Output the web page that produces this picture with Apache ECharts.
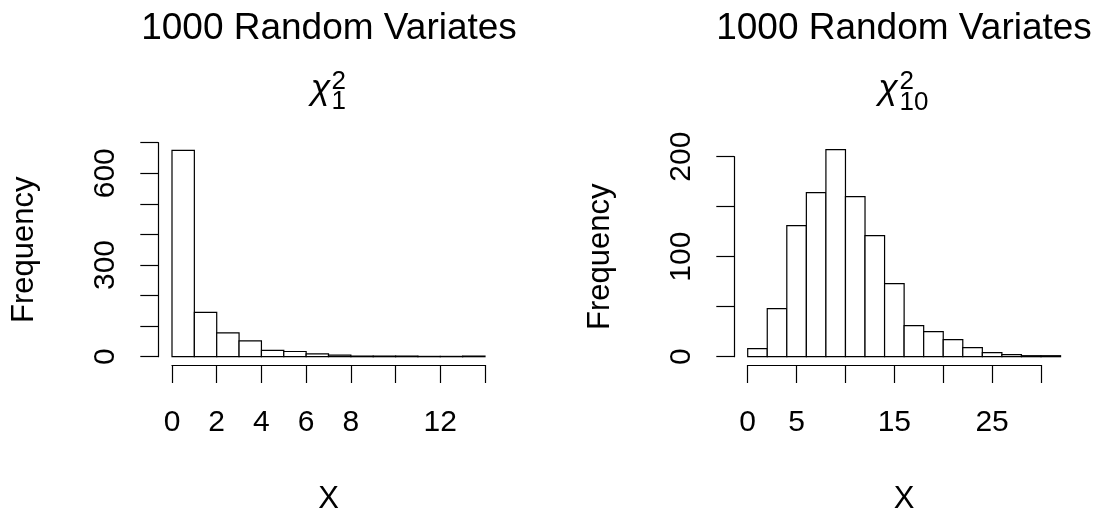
<!DOCTYPE html>
<html>
<head>
<meta charset="utf-8">
<script src="https://cdn.jsdelivr.net/npm/echarts@6/dist/echarts.min.js"></script>
<style>
html,body{margin:0;padding:0;background:#fff;}
#chart{width:1095px;height:512px;}
</style>
</head>
<body>
<div id="chart"></div>
<script>
// ---- data ----
const mainTitle = "1000 Random Variates";
const leftBreaks = [0,1,2,3,4,5,6,7,8,9,10,11,12,13,14];
const leftCounts = [675,145,78,52,21,17,9,5,2,2,2,1,1,2];
const rightBreaks = [0,2,4,6,8,10,12,14,16,18,20,22,24,26,28,30,32];
const rightCounts = [8,48,131,164,207,160,121,73,31,25,17,9,4,2,1,1];
const leftXTickLabels = [0,2,4,6,8,12];
const leftYTickLabels = [0,300,600];
const rightXTickLabels = [0,5,15,25];
const rightYTickLabels = [0,100,200];
const xName = "X";
const yName = "Frequency";

const FONT = "'Liberation Sans', Arial, Helvetica, sans-serif";
const AXFS = 30;
const LW = 1.2;

function binsData(breaks, counts){
  const out = [];
  for (let i = 0; i < counts.length; i++) out.push([breaks[i], breaks[i+1], counts[i]]);
  return out;
}
function renderBin(params, api){
  const x0 = api.value(0), x1 = api.value(1), c = api.value(2);
  const p0 = api.coord([x0, 0]);
  const p1 = api.coord([x1, c]);
  return {
    type: 'rect',
    shape: {x: p0[0], y: p1[1], width: p1[0]-p0[0], height: p0[1]-p1[1]},
    style: {fill: '#ffffff', stroke: '#000000', lineWidth: LW}
  };
}
function labelFmt(list){
  return function(v){ return list.indexOf(v) >= 0 ? String(v) : ''; };
}
function xAxisCfg(gi, min, max, interval, labels){
  return {
    type: 'value', gridIndex: gi, min: min, max: max, interval: interval,
    offset: 8.3,
    axisLine: {show: true, onZero: false, lineStyle: {color: '#000', width: LW}},
    axisTick: {show: true, length: 18, lineStyle: {color: '#000', width: LW}},
    splitLine: {show: false},
    axisLabel: {show: true, margin: 43, color: '#000', fontSize: AXFS, fontFamily: FONT,
      formatter: labelFmt(labels), showMinLabel: true, showMaxLabel: true, hideOverlap: false}
  };
}
function yAxisCfg(gi, min, max, interval, labels, off){
  return {
    type: 'value', gridIndex: gi, min: min, max: max, interval: interval,
    offset: off,
    name: yName, nameLocation: 'middle', nameRotate: 90, nameGap: 118,
    nameTextStyle: {color: '#000', fontSize: 31, fontFamily: FONT},
    axisLine: {show: true, onZero: false, lineStyle: {color: '#000', width: LW}},
    axisTick: {show: true, length: 18, lineStyle: {color: '#000', width: LW}},
    splitLine: {show: false},
    axisLabel: {show: true, rotate: 90, margin: 38, color: '#000', fontSize: AXFS, fontFamily: FONT,
      formatter: labelFmt(labels), showMinLabel: true, showMaxLabel: true, hideOverlap: false}
  };
}
function txt(x, y, s, size, align, extra){
  const st = {text: s, x: x, y: y, fill: '#000',
    font: (extra && extra.italic ? 'italic ' : '') + size + 'px ' + FONT,
    fontSize: size, fontFamily: FONT,
    textAlign: align, align: align, textVerticalAlign: 'middle', verticalAlign: 'middle'};
  if (extra && extra.italic) st.fontStyle = 'italic';
  return {type: 'text', silent: true, style: st};
}

const chart = echarts.init(document.getElementById('chart'), null, {renderer: 'canvas'});
chart.setOption({
  backgroundColor: '#ffffff',
  animation: false,
  grid: [
    {left: 172, top: 142.7, width: 313, height: 214, containLabel: false},
    {left: 747.7, top: 156.7, width: 293.3, height: 200, containLabel: false}
  ],
  xAxis: [
    xAxisCfg(0, 0, 14, 2, leftXTickLabels),
    xAxisCfg(1, 0, 30, 5, rightXTickLabels)
  ],
  yAxis: [
    yAxisCfg(0, 0, 700, 100, leftYTickLabels, 13.7),
    yAxisCfg(1, 0, 200, 50, rightYTickLabels, 13.4)
  ],
  series: [
    {type: 'custom', xAxisIndex: 0, yAxisIndex: 0, clip: false, renderItem: renderBin,
     encode: {x: [0, 1], y: 2}, data: binsData(leftBreaks, leftCounts)},
    {type: 'custom', xAxisIndex: 1, yAxisIndex: 1, clip: false, renderItem: renderBin,
     encode: {x: [0, 1], y: 2}, data: binsData(rightBreaks, rightCounts)}
  ],
  graphic: [
    txt(329, 29, mainTitle, 37, 'center'),
    txt(904, 29, mainTitle, 37, 'center'),
    txt(330.5, 89, 'χ', 36, 'right', {italic: true}),
    txt(331.5, 82, '2', 26, 'left'),
    txt(331.5, 102, '1', 26, 'left'),
    txt(898, 89, 'χ', 36, 'right', {italic: true}),
    txt(899.5, 82, '2', 26, 'left'),
    txt(899.5, 103, '10', 26, 'left'),
    txt(328.5, 499, xName, 31, 'center'),
    txt(904, 499, xName, 31, 'center')
  ]
});
</script>
</body>
</html>
